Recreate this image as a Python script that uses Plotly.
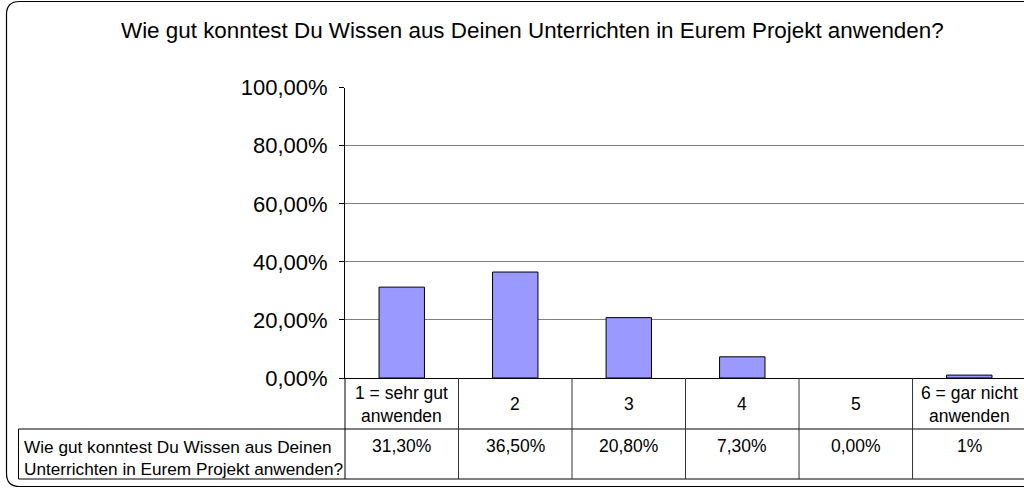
import plotly.graph_objects as go

W, H = 1024, 488

title_text = "Wie gut konntest Du Wissen aus Deinen Unterrichten in Eurem Projekt anwenden?"
categories = ["1 = sehr gut anwenden", "2", "3", "4", "5", "6 = gar nicht anwenden"]
category_labels = ["1 = sehr gut<br>anwenden", "2", "3", "4", "5", "6 = gar nicht<br>anwenden"]
values = [31.3, 36.5, 20.8, 7.3, 0.0, 1.0]
value_labels = ["31,30%", "36,50%", "20,80%", "7,30%", "0,00%", "1%"]
series_label = "Wie gut konntest Du Wissen aus Deinen<br>Unterrichten in Eurem Projekt anwenden?"
y_tickvals = [0, 20, 40, 60, 80, 100]
y_ticktext = ["0,00%", "20,00%", "40,00%", "60,00%", "80,00%", "100,00%"]

FONT = "Liberation Sans, Arial, sans-serif"


def px(x):
    return x / W


def py(y):
    return 1 - y / H


plot_left, plot_top, plot_bottom = 345, 87.7, 378
row1_bottom, row2_bottom = 429, 479
label_left = 18.5

fig = go.Figure()
fig.add_trace(go.Bar(
    x=list(range(len(categories))), y=values, width=0.4,
    marker=dict(color="#9999FF",
                line=dict(color="#000000", width=[1 if v > 0 else 0 for v in values])),
    hoverinfo="skip",
))

shapes = []
# outer rounded frame
l, t, r, b, rad = 6.5, 1.5, 1060, 486.5, 13
path = (f"M {px(l)},{py(t + rad)} Q {px(l)},{py(t)} {px(l + rad)},{py(t)} "
        f"L {px(r)},{py(t)} L {px(r)},{py(b)} L {px(l + rad)},{py(b)} "
        f"Q {px(l)},{py(b)} {px(l)},{py(b - rad)} Z")
shapes.append(dict(type="path", path=path, xref="paper", yref="paper",
                   line=dict(color="#000000", width=1.2), fillcolor="rgba(0,0,0,0)", layer="below"))

line_col = "#000000"
# table horizontal lines
for yv in (row1_bottom, row2_bottom):
    shapes.append(dict(type="line", xref="paper", yref="paper",
                       x0=px(label_left), x1=1.0, y0=py(yv), y1=py(yv),
                       line=dict(color=line_col, width=1)))
# label cell left border
shapes.append(dict(type="line", xref="paper", yref="paper",
                   x0=px(label_left), x1=px(label_left), y0=py(row1_bottom), y1=py(row2_bottom),
                   line=dict(color=line_col, width=1)))
# left border of table at axis
shapes.append(dict(type="line", xref="paper", yref="paper",
                   x0=px(plot_left), x1=px(plot_left), y0=py(plot_bottom), y1=py(row2_bottom),
                   line=dict(color=line_col, width=1)))
# column separators
for i in range(len(categories) - 1):
    shapes.append(dict(type="line", xref="x", yref="paper",
                       x0=i + 0.5, x1=i + 0.5, y0=py(plot_bottom), y1=py(row2_bottom),
                       line=dict(color="#333333", width=1)))

annotations = []
annotations.append(dict(text=title_text, xref="paper", yref="paper",
                        x=px(532.5), y=py(30), xanchor="center", yanchor="middle",
                        showarrow=False, font=dict(family=FONT, size=22.4, color="#000000")))
for i, (lab, val) in enumerate(zip(category_labels, value_labels)):
    annotations.append(dict(text=lab, xref="x", yref="paper", x=i, y=py(404),
                            xanchor="center", yanchor="middle", align="center",
                            showarrow=False, font=dict(family=FONT, size=17.5, color="#000000")))
    annotations.append(dict(text=val, xref="x", yref="paper", x=i, y=py(446),
                            xanchor="center", yanchor="middle", align="center",
                            showarrow=False, font=dict(family=FONT, size=17.5, color="#000000")))
annotations.append(dict(text=series_label, xref="paper", yref="paper",
                        x=px(22), y=py(457.5), xanchor="left", yanchor="middle", align="left",
                        showarrow=False, font=dict(family=FONT, size=17.2, color="#000000")))

fig.update_layout(
    width=W, height=H,
    margin=dict(l=0, r=0, t=0, b=0, pad=0, autoexpand=False),
    paper_bgcolor="white", plot_bgcolor="white",
    showlegend=False,
    shapes=shapes,
    annotations=annotations,
    xaxis=dict(domain=[px(plot_left), 1.0],
               range=[-0.5, 5.482], showticklabels=False, ticks="",
               showline=True, linecolor="#000000", linewidth=1, automargin=False,
               showgrid=False, zeroline=False, fixedrange=True),
    yaxis=dict(domain=[py(plot_bottom), py(plot_top)], range=[0, 100],
               tickvals=y_tickvals, ticktext=y_ticktext,
               ticks="outside", ticklen=5, tickcolor="#000000",
               ticklabelstandoff=7, automargin=False,
               tickfont=dict(family=FONT, size=22, color="#000000"),
               showline=True, linecolor="#000000", linewidth=1,
               showgrid=True, gridcolor="#808080", gridwidth=1,
               zeroline=False, fixedrange=True),
)

fig.write_html("out.html", config={"displayModeBar": False, "staticPlot": True},
               post_script="document.body.style.margin='0px';")
